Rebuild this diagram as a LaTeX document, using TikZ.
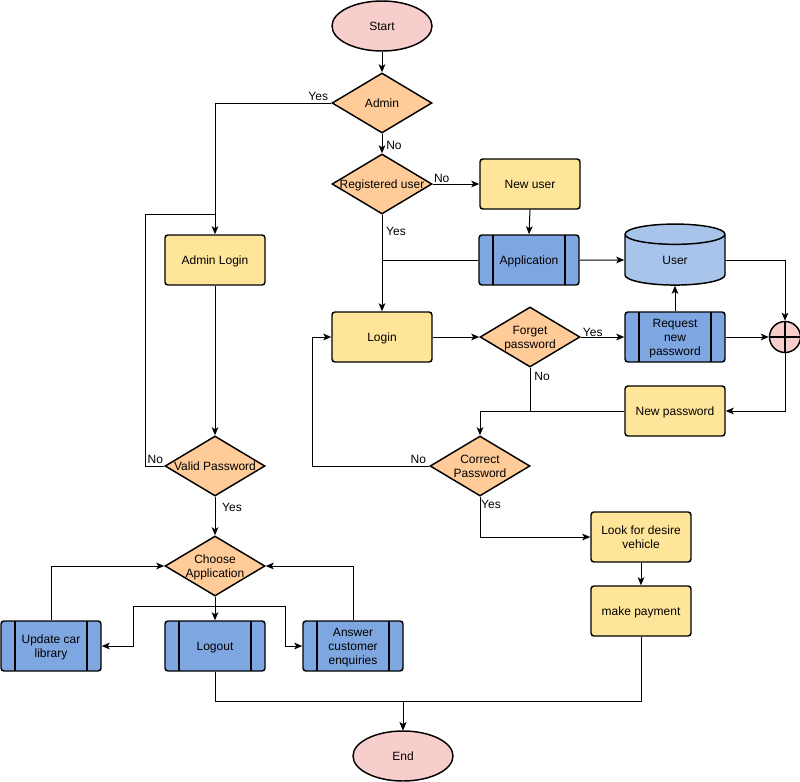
\documentclass[tikz,border=0pt]{standalone}
\usepackage{fontspec}
\setmainfont{Liberation Sans}
\usetikzlibrary{shapes.geometric,arrows.meta}
\definecolor{termpink}{HTML}{F8CECC}
\definecolor{decorange}{HTML}{FFCC99}
\definecolor{stepyellow}{HTML}{FFE599}
\definecolor{procblue}{HTML}{7EA6E0}
\definecolor{storeblue}{HTML}{A9C4EB}
\tikzset{>={Stealth[length=6pt,width=5pt,inset=1.5pt]}}
\tikzset{
	every node/.style={font=\fontsize{9}{10.5}\selectfont},
	shapeline/.style={draw=black,line width=1.1pt},
	terminal/.style={shapeline,ellipse,fill=termpink,minimum width=75pt,minimum height=37.5pt,inner sep=0pt},
	decision/.style={shapeline,diamond,fill=decorange,minimum width=75pt,minimum height=45pt,inner sep=0pt,aspect=1.667},
	stepbox/.style={shapeline,rectangle,rounded corners=2.25pt,fill=stepyellow,minimum width=75pt,minimum height=37.5pt,inner sep=1pt},
	procbox/.style={stepbox,fill=procblue,path picture={
		\draw[line width=1.1pt] ([xshift=10.5pt]path picture bounding box.north west) -- ([xshift=10.5pt]path picture bounding box.south west);
		\draw[line width=1.1pt] ([xshift=-10.5pt]path picture bounding box.north east) -- ([xshift=-10.5pt]path picture bounding box.south east);}},
	store/.style={shapeline,cylinder,shape border rotate=90,aspect=0.8,fill=storeblue,minimum width=75pt,minimum height=45.75pt,inner sep=0pt},
	joinplus/.style={shapeline,circle,fill=termpink,minimum size=23.25pt,inner sep=0pt,path picture={
		\draw[line width=1.1pt] (path picture bounding box.north) -- (path picture bounding box.south);
		\draw[line width=1.1pt] (path picture bounding box.west) -- (path picture bounding box.east);}},
	lbl/.style={inner sep=0pt},
	wire/.style={line width=0.75pt},
	conn/.style={wire,->}
}
\newcommand{\btext}[1]{\raisebox{-1.5pt}[\height][\depth]{\begin{tabular}{@{}c@{}}#1\end{tabular}}}
\newcommand{\dtext}[1]{\makebox[0pt]{\btext{#1}}}

\begin{document}
\begin{tikzpicture}[x=0.75pt,y=-0.75pt]
	\useasboundingbox (0,0) rectangle (800,782);

	\node[terminal] (start) at (382,26) {\btext{Start}};
	\node[decision] (admin) at (382,103) {\dtext{Admin}};
	\node[decision] (reg) at (382,184) {\dtext{Registered user}};
	\node[stepbox] (newuser) at (530,184) {\btext{New user}};
	\node[procbox] (app) at (529,260) {\btext{Application}};
	\node[store] (user) at (675,260) {\btext{User}};
	\node[stepbox] (login) at (382,337) {\btext{Login}};
	\node[decision] (forget) at (530,337) {\dtext{Forget\\password}};
	\node[procbox] (req) at (675,337) {\btext{Request\\new\\password}};
	\node[joinplus] (plus) at (785,337) {};
	\node[stepbox] (newpw) at (675,411) {\btext{New password}};
	\node[decision] (correct) at (480,466) {\dtext{Correct\\Password}};
	\node[stepbox] (alogin) at (215,260) {\btext{Admin Login}};
	\node[decision] (valid) at (215,466) {\dtext{Valid Password}};
	\node[decision] (choose) at (215,566) {\dtext{Choose\\Application}};
	\node[procbox] (update) at (51,646) {\btext{Update car\\library}};
	\node[procbox] (logout) at (215,646) {\btext{Logout}};
	\node[procbox] (answer) at (353,646) {\btext{Answer\\customer\\enquiries}};
	\node[stepbox] (look) at (641,537) {\btext{Look for desire\\vehicle}};
	\node[stepbox] (pay) at (641,611) {\btext{make payment}};
	\node[terminal] (finish) at (403,756) {\btext{End}};
	\coordinate (vjoin) at (215,214);

	\draw[conn] (start.south) -- (admin.north);
	\draw[conn] (admin.west) -| (alogin.north);
	\draw[conn] (admin.south) -- (reg.north);
	\draw[conn] (reg.east) -- (newuser.west);
	\draw[conn] (reg.south) -- (login.north);
	\draw[conn] (newuser.south) -- (app.north);
	\draw[wire] (app.west) -- (app.west -| login.north);
	\draw[conn] (app.east) -- (user.west);
	\draw[conn] (user.east) -| (plus.north);
	\draw[conn] (login.east) -- (forget.west);
	\draw[conn] (forget.east) -- (req.west);
	\draw[conn] (req.north) -- (user.south);
	\draw[conn] (req.east) -- (plus.west);
	\draw[conn] (plus.south) |- (newpw.east);
	\draw[conn] (newpw.west) -| (correct.north);
	\draw[wire] (forget.south) -- (forget.south |- newpw.west);
	\draw[conn] (correct.west) -- ++(-117,0) |- (login.west);
	\draw[conn] (correct.south) |- (look.west);
	\draw[conn] (look.south) -- (pay.north);
	\draw[conn] (pay.south) -- ++(0,65) -| (finish.north);
	\draw[conn] (alogin.south) -- (valid.north);
	\draw[wire] (valid.west) -- ++(-19,0) |- (vjoin);
	\draw[conn] (valid.south) -- (choose.north);
	\draw[conn] (choose.south) -- (logout.north);
	\draw[conn] (choose.south) ++(0,10) -- ++(-82,0) |- (update.east);
	\draw[conn] (choose.south) ++(0,10) -- ++(70,0) |- (answer.west);
	\draw[conn] (update.north) |- (choose.west);
	\draw[conn] (answer.north) |- (choose.east);
	\draw[conn] (logout.south) -- ++(0,30) -| (finish.north);

	\node[lbl] (yesadmin) at ([shift={(-13,-7)}]admin.west) {Yes};
	\node[lbl] (noadmin) at ([shift={(12,12)}]admin.south) {No};
	\node[lbl] (noreg) at ([shift={(9,-6)}]reg.east) {No};
	\node[lbl] (yesreg) at ([shift={(14,17)}]reg.south) {Yes};
	\node[lbl] (yesforget) at ([shift={(12,-5)}]forget.east) {Yes};
	\node[lbl] (noforget) at ([shift={(12,9)}]forget.south) {No};
	\node[lbl] (nocorrect) at ([shift={(-11,-7)}]correct.west) {No};
	\node[lbl] (yescorrect) at ([shift={(11,8)}]correct.south) {Yes};
	\node[lbl] (novalid) at ([shift={(-9,-7)}]valid.west) {No};
	\node[lbl] (yesvalid) at ([shift={(17,11)}]valid.south) {Yes};
\end{tikzpicture}
\end{document}
